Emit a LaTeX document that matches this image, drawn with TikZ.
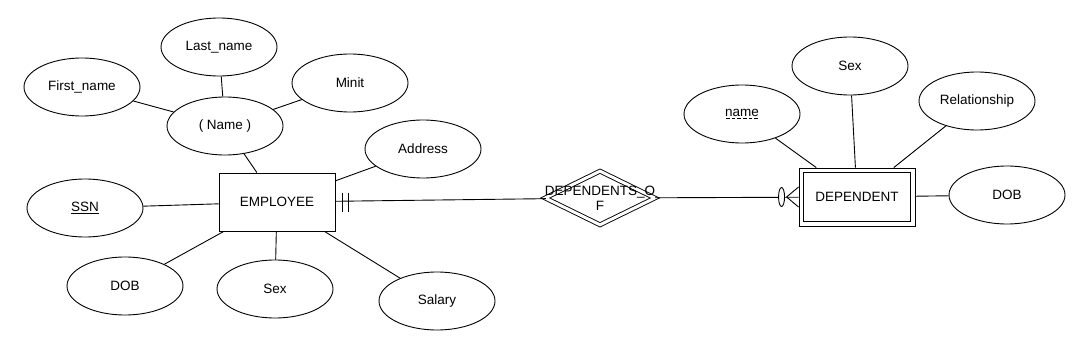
\documentclass[tikz,border=0pt]{standalone}
\usepackage{fontspec}
\setmainfont{Liberation Sans}
\usetikzlibrary{shapes.geometric}
\newcommand\mydashul[1]{\setbox0=\hbox{#1}\leavevmode\rlap{\copy0}\raisebox{-2.6pt}{\hbox to \wd0{\xleaders\hbox to 5.5pt{\hss\rule{3.6pt}{0.8pt}\hss}\hfill}}}
\begin{document}
\begin{tikzpicture}[x=1pt,y=-1pt, line width=0.9pt,
  font=\fontsize{13.5}{15}\selectfont,
  attr/.style={ellipse, draw, minimum width=116pt, minimum height=58pt, inner sep=0pt},
  ent/.style={rectangle, draw, minimum width=116pt, minimum height=58pt, inner sep=0pt},
  relbox/.style={diamond, draw, double, double distance=3pt, minimum width=110pt, minimum height=54pt, inner sep=0pt},
  conn/.style={line width=0.9pt}]
\useasboundingbox (0,0) rectangle (1076,342);

% entities
\node[ent] (emp) at (277,202) {EMPLOYEE};
\node[ent] (dep) at (857,197) {DEPENDENT};
\draw ([xshift=5pt,yshift=-5pt]dep.north west) rectangle ([xshift=-5pt,yshift=5pt]dep.south east);

% relationship
\node[relbox] (rel) at (600,198) {};
\node[align=center, inner sep=0pt] (reltext) at (600,198) {DEPENDENTS\_O\\F};

% employee attributes
\node[attr] (fn) at (82,87) {First\_name};
\node[attr] (ln) at (219,47) {Last\_name};
\node[attr] (nm) at (225,126) {( Name )};
\node[attr] (mi) at (350,83) {Minit};
\node[attr] (ad) at (423,149) {Address};
\node[attr] (ssn) at (85,208) {\underline{SSN}};
\node[attr] (dob) at (125,286) {DOB};
\node[attr] (sx) at (275,289) {Sex};
\node[attr] (sal) at (437,301) {Salary};

% dependent attributes
\node[attr] (dname) at (742,114) {\mydashul{name}};
\node[attr] (dsex) at (850,66) {Sex};
\node[attr] (drel) at (977,101) {Relationship};
\node[attr] (ddob) at (1007,195) {DOB};

% connectors
\draw[conn] (fn) -- (nm);
\draw[conn] (ln) -- (nm);
\draw[conn] (mi) -- (nm);
\draw[conn] (nm) -- (emp);
\draw[conn] (ad) -- (emp);
\draw[conn] (ssn) -- (emp);
\draw[conn] (dob) -- (emp);
\draw[conn] (sx) -- (emp);
\draw[conn] (sal) -- (emp);
\draw[conn] (dname) -- (dep);
\draw[conn] (dsex) -- (dep);
\draw[conn] (drel) -- (dep);
\draw[conn] (ddob) -- (dep);
\draw[conn] (emp) -- (rel);
\draw[conn] (rel) -- (dep);

% cardinality marks: mandatory one at EMPLOYEE
\draw[conn] ([xshift=7pt,yshift=9.5pt]emp.east) -- ([xshift=7pt,yshift=-9.5pt]emp.east);
\draw[conn] ([xshift=13pt,yshift=9.5pt]emp.east) -- ([xshift=13pt,yshift=-9.5pt]emp.east);
% zero or many at DEPENDENT
\draw[conn] ([xshift=-12pt]dep.west) -- ([yshift=10pt]dep.west);
\draw[conn] ([xshift=-12pt]dep.west) -- ([yshift=-10pt]dep.west);
\draw[conn, fill=white] ([xshift=-17pt]dep.west) ellipse [x radius=3pt, y radius=9.5pt];
\end{tikzpicture}
\end{document}
